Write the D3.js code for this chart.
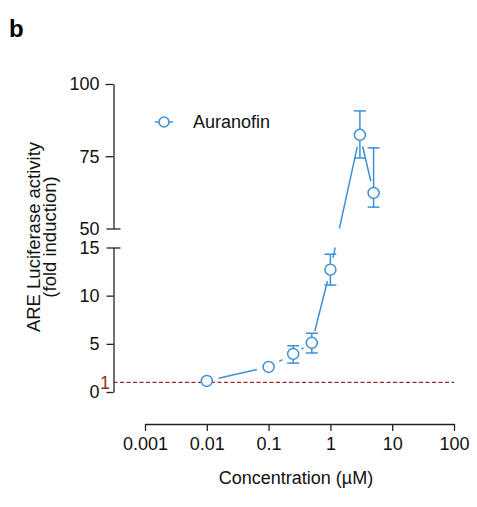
<!DOCTYPE html>
<html><head><meta charset="utf-8">
<script src="https://cdn.jsdelivr.net/npm/d3@7"></script>
<style>
html,body{margin:0;padding:0;background:#fff;}
svg{display:block;font-family:"Liberation Sans",Arial,Helvetica,sans-serif;}
</style></head>
<body>
<svg id="chart" width="477" height="507"></svg>
<script>
// ---- data ----
const concentrations = [0.01, 0.1, 0.25, 0.5, 1, 3, 5];
const foldInduction   = [1.15, 2.6, 3.95, 5.1, 12.7, 82.4, 62.3];
const errUpper        = [1.15, 2.6, 4.8, 6.1, 14.3, 90.7, 77.9];
const errLower        = [1.15, 2.6, 3.0, 4.05, 11.1, 74.4, 57.4];
const xTicks = [0.001, 0.01, 0.1, 1, 10, 100];
const xTickLabels = ["0.001", "0.01", "0.1", "1", "10", "100"];
const yTicksTop = [50, 75, 100];
const yTicksBottom = [0, 5, 10, 15];
const seriesName = "Auranofin";
const baselineValue = 1;

const blue = "#3f8fd8";
const red = "#9b2b26";
const FS = 18;

const svg = d3.select("#chart");
const x = d3.scaleLog().domain([0.001, 100]).range([145, 454]);
const yTop = d3.scaleLinear().domain([50, 100]).range([228.5, 84]);
const yBot = d3.scaleLinear().domain([0, 15]).range([392, 247.5]);
const yPix = v => v > 15 ? yTop(v) : yBot(v);
const axisX = 113.5;

// panel label
svg.append("text").attr("x", 9).attr("y", 37).attr("font-size", 24)
  .attr("font-weight", "bold").text("b");

// clip paths for the two y segments
const defs = svg.append("defs");
defs.append("clipPath").attr("id", "clipTop").append("rect")
  .attr("x", 114).attr("y", 60).attr("width", 360).attr("height", 228.5 - 60);
defs.append("clipPath").attr("id", "clipBot").append("rect")
  .attr("x", 114).attr("y", 247.5).attr("width", 360).attr("height", 392 - 247.5);

// y axes
function styleAxis(g) {
  g.selectAll("path.domain").attr("stroke", "#222").attr("stroke-width", 1.3);
  g.selectAll(".tick line").attr("stroke", "#222").attr("stroke-width", 1.3);
  g.selectAll(".tick text").attr("fill", "#111").attr("font-size", FS)
    .attr("font-family", "Liberation Sans, Arial, sans-serif");
}
const gyTop = svg.append("g").attr("transform", `translate(${axisX},0)`)
  .call(d3.axisLeft(yTop).tickValues(yTicksTop).tickSize(8).tickSizeOuter(0).tickPadding(6));
styleAxis(gyTop);
const gyBot = svg.append("g").attr("transform", `translate(${axisX},0)`)
  .call(d3.axisLeft(yBot).tickValues(yTicksBottom).tickSize(7).tickSizeOuter(0).tickPadding(7));
styleAxis(gyBot);
// break ticks extend on both sides
gyTop.selectAll(".tick").filter(d => d === 50).select("line").attr("x1", 7).attr("x2", -7);
gyBot.selectAll(".tick").filter(d => d === 15).select("line").attr("x1", 7).attr("x2", -7);

// x axis
const gx = svg.append("g").attr("transform", "translate(0,424)")
  .call(d3.axisBottom(x).tickValues(xTicks).tickFormat((d, i) => xTickLabels[i])
    .tickSize(7).tickSizeOuter(0).tickPadding(6));
styleAxis(gx);

// axis titles
svg.append("text").attr("x", 296).attr("y", 484).attr("text-anchor", "middle")
  .attr("font-size", FS).attr("fill", "#111").text("Concentration (µM)");
const yl = svg.append("g").attr("transform", "translate(34,237) rotate(-90)");
yl.append("text").attr("x", 0).attr("y", 0).attr("dy", "0.35em").attr("text-anchor", "middle")
  .attr("font-size", FS + 0.5).attr("fill", "#111").text("ARE Luciferase activity");
yl.append("text").attr("x", 0).attr("y", 16).attr("dy", "0.35em").attr("text-anchor", "middle")
  .attr("font-size", FS + 0.5).attr("fill", "#111").text("(fold induction)");

// baseline dashed line at 1
svg.append("line").attr("x1", axisX).attr("x2", x(100)).attr("y1", yBot(baselineValue)).attr("y2", yBot(baselineValue))
  .attr("stroke", red).attr("stroke-width", 1.2).attr("stroke-dasharray", "4,2.5");
svg.append("text").attr("x", 110).attr("y", yBot(baselineValue)).attr("dy", "0.36em")
  .attr("text-anchor", "end").attr("font-size", FS).attr("fill", red).text("1");

// data points in pixel space
const pts = concentrations.map((c, i) => ({
  x: x(c), y: yPix(foldInduction[i]), hi: yPix(errUpper[i]), lo: yPix(errLower[i])
}));

// connecting segments with gaps near markers, clipped to the segments
const gap = 12;
const segs = [];
for (let i = 0; i < pts.length - 1; i++) {
  const a = pts[i], b = pts[i + 1];
  const dx = b.x - a.x, dy = b.y - a.y, L = Math.hypot(dx, dy);
  const ux = dx / L, uy = dy / L;
  segs.push({x1: a.x + ux * gap, y1: a.y + uy * gap, x2: b.x - ux * gap, y2: b.y - uy * gap});
}
["clipTop", "clipBot"].forEach(cid => {
  svg.append("g").attr("clip-path", `url(#${cid})`).selectAll("line").data(segs).join("line")
    .attr("x1", d => d.x1).attr("y1", d => d.y1).attr("x2", d => d.x2).attr("y2", d => d.y2)
    .attr("stroke", blue).attr("stroke-width", 1.5);
});

// error bars
const eb = svg.append("g").attr("stroke", blue).attr("stroke-width", 1.5);
const r = 5.5;
pts.forEach(p => {
  if (p.hi < p.y - r) {
    eb.append("line").attr("x1", p.x).attr("x2", p.x).attr("y1", p.y - r).attr("y2", p.hi);
    eb.append("line").attr("x1", p.x - 6).attr("x2", p.x + 6).attr("y1", p.hi).attr("y2", p.hi);
  }
  if (p.lo > p.y + r) {
    eb.append("line").attr("x1", p.x).attr("x2", p.x).attr("y1", p.y + r).attr("y2", p.lo);
    eb.append("line").attr("x1", p.x - 6).attr("x2", p.x + 6).attr("y1", p.lo).attr("y2", p.lo);
  }
});

// markers
svg.append("g").selectAll("circle").data(pts).join("circle")
  .attr("cx", d => d.x).attr("cy", d => d.y).attr("r", r)
  .attr("fill", "#fff").attr("stroke", blue).attr("stroke-width", 1.5);

// legend
const lg = svg.append("g").attr("transform", "translate(164,122)");
lg.append("line").attr("x1", -9).attr("x2", 9).attr("stroke", blue).attr("stroke-width", 1.5);
lg.append("circle").attr("r", 5).attr("fill", "#fff").attr("stroke", blue).attr("stroke-width", 1.5);
lg.append("text").attr("x", 29).attr("dy", "0.36em").attr("font-size", FS).attr("fill", "#111").text(seriesName);
</script>
</body></html>
